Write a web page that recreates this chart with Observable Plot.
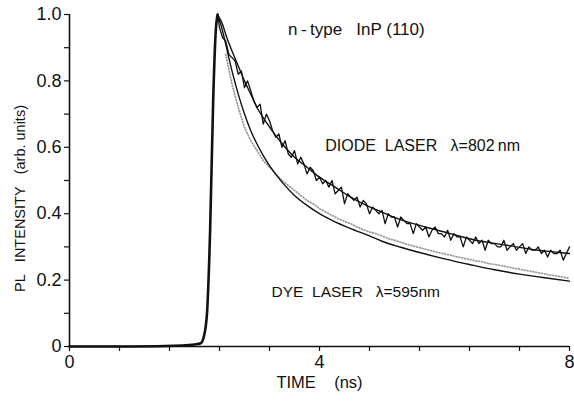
<!DOCTYPE html>
<html>
<head>
<meta charset="utf-8">
<script src="https://cdn.jsdelivr.net/npm/d3@7"></script>
<script src="https://cdn.jsdelivr.net/npm/@observablehq/plot@0.6"></script>
<style>
  body { margin: 0; background: #fff; }
  #chart svg { display: block; }
</style>
</head>
<body>
<div id="chart"></div>
<script>
// Shared rising edge (both measurements)
const riseTime  = [0, 1.0, 1.8, 2.0, 2.1, 2.15, 2.2, 2.25, 2.3, 2.34, 2.37];
const riseValue = [0, 0.0, 0.003, 0.006, 0.01, 0.03, 0.1, 0.35, 0.75, 0.95, 1.0];

// Diode laser (802 nm) fit curve
const diodeFitTime  = [2.37, 2.45, 2.5, 2.6, 2.7, 2.8, 2.9, 3.0, 3.15, 3.3, 3.45, 3.6, 3.8, 4.0, 4.25, 4.5, 4.75, 5.0, 5.25, 5.5, 5.75, 6.0, 6.25, 6.5, 6.75, 7.0, 7.25, 7.5, 7.75, 8.0];
const diodeFitValue = [1.0, 0.97, 0.94, 0.89, 0.845, 0.80, 0.76, 0.72, 0.675, 0.635, 0.60, 0.57, 0.54, 0.51, 0.48, 0.45, 0.425, 0.405, 0.385, 0.37, 0.357, 0.345, 0.332, 0.32, 0.312, 0.305, 0.297, 0.29, 0.285, 0.28];

// Diode laser measured (noisy) trace, every 0.05 ns from 2.40 ns
const diodeDataStart = 2.40, diodeDataStep = 0.05;
const diodeData = [
  0.96, 0.93, 0.92, 0.88, 0.87, 0.86, 0.82, 0.83, 0.78, 0.80,
  0.77, 0.74, 0.72, 0.73, 0.67, 0.70, 0.68, 0.65, 0.63, 0.64,
  0.60, 0.62, 0.58, 0.57, 0.59, 0.55, 0.57, 0.55, 0.52, 0.54,
  0.53, 0.50, 0.51, 0.49, 0.50, 0.48, 0.50, 0.46, 0.47, 0.48,
  0.43, 0.46, 0.45, 0.44, 0.45, 0.42, 0.44, 0.43, 0.40, 0.42,
  0.41, 0.40, 0.41, 0.37, 0.40, 0.39, 0.39, 0.36, 0.39, 0.38,
  0.37, 0.37, 0.34, 0.37, 0.36, 0.35, 0.36, 0.33, 0.35, 0.36,
  0.34, 0.34, 0.33, 0.35, 0.32, 0.34, 0.33, 0.33, 0.30, 0.33,
  0.32, 0.31, 0.33, 0.31, 0.32, 0.29, 0.32, 0.31, 0.31, 0.30,
  0.30, 0.32, 0.29, 0.30, 0.31, 0.29, 0.30, 0.31, 0.28, 0.30,
  0.29, 0.29, 0.30, 0.28, 0.29, 0.27, 0.29, 0.28, 0.28, 0.29,
  0.26, 0.28, 0.30
];

// Dye laser (595 nm) fit curve
const dyeFitTime  = [2.37, 2.45, 2.5, 2.6, 2.7, 2.8, 2.9, 3.0, 3.1, 3.2, 3.4, 3.6, 3.8, 4.0, 4.2, 4.5, 4.8, 5.0, 5.3, 5.6, 6.0, 6.4, 6.8, 7.2, 7.6, 8.0];
const dyeFitValue = [1.0, 0.95, 0.91, 0.83, 0.76, 0.70, 0.65, 0.61, 0.575, 0.545, 0.495, 0.455, 0.425, 0.40, 0.38, 0.355, 0.333, 0.317, 0.299, 0.283, 0.264, 0.247, 0.231, 0.218, 0.207, 0.197];

// Dye laser measured trace (stippled), every 0.1 ns from 2.5 ns
const dyeDataStart = 2.5, dyeDataStep = 0.1;
const dyeData = [
  0.88, 0.79, 0.72, 0.66, 0.62, 0.59, 0.56, 0.54, 0.52, 0.50,
  0.485, 0.47, 0.455, 0.44, 0.43, 0.415, 0.405, 0.395, 0.385, 0.377,
  0.37, 0.36, 0.352, 0.345, 0.34, 0.333, 0.325, 0.32, 0.314, 0.308,
  0.303, 0.298, 0.293, 0.288, 0.283, 0.279, 0.275, 0.27, 0.266, 0.262,
  0.258, 0.255, 0.25, 0.247, 0.244, 0.24, 0.236, 0.233, 0.229, 0.226,
  0.222, 0.219, 0.215, 0.212, 0.209, 0.205
];

// Axis ticks and labels
const xMinorTicks = [0, 0.8, 1.6, 2.4, 3.2, 4.0, 4.8, 5.6, 6.4, 7.2, 8.0];
const xLabelTicks = [0, 4, 8];
const yMinorTicks = [0, 0.1, 0.2, 0.3, 0.4, 0.5, 0.6, 0.7, 0.8, 0.9, 1.0];
const yLabelTicks = [0, 0.2, 0.4, 0.6, 0.8, 1.0];
const yTickLabels = ["0", "0.2", "0.4", "0.6", "0.8", "1.0"];
const xAxisTitle = "TIME\u00a0\u00a0\u00a0\u00a0(ns)";
const yAxisTitle = "PL\u00a0\u00a0\u00a0INTENSITY\u00a0\u00a0\u00a0(arb. units)";

// Annotations (time, intensity, text)
const noteTime  = [4.59, 5.65, 4.58];
const noteValue = [0.955, 0.605, 0.163];
const noteText  = [
  "n\u2009-\u2009type\u00a0\u00a0\u00a0InP (110)",
  "DIODE\u00a0\u00a0LASER\u00a0\u00a0\u00a0\u03bb=802\u2009nm",
  "DYE\u00a0\u00a0LASER\u00a0\u00a0\u00a0\u03bb=595nm"
];
const noteSize = [17, 16, 15.5];

// Build tables
const rise = riseTime.map((t, i) => ({t, v: riseValue[i]}));
const diodeFit = diodeFitTime.map((t, i) => ({t, v: diodeFitValue[i]}));
const dyeFit = dyeFitTime.map((t, i) => ({t, v: dyeFitValue[i]}));
const diodeMeas = [{t: 2.37, v: 1.0}].concat(diodeData.map((v, i) => ({t: diodeDataStart + i * diodeDataStep, v})));
const dyeMeas = dyeData.map((v, i) => ({t: dyeDataStart + i * dyeDataStep, v}));
const notes = noteText.map((s, i) => ({t: noteTime[i], v: noteValue[i], s, size: noteSize[i]}));

const chart = Plot.plot({
  width: 574,
  height: 409,
  marginTop: 14,
  marginBottom: 63,
  marginLeft: 69,
  marginRight: 5,
  x: {domain: [0, 8]},
  y: {domain: [0, 1]},
  style: {fontFamily: "'Liberation Sans', Arial, sans-serif", fontSize: "16px", color: "#111", background: "#fff"},
  marks: [
    // axes
    Plot.axisX({ticks: xMinorTicks, tickSize: 5, tickFormat: () => "", label: null, strokeWidth: 1.2}),
    Plot.axisX({ticks: xLabelTicks, tickSize: 0, tickPadding: 9, fontSize: 18, label: null}),
    Plot.axisY({ticks: yMinorTicks, tickSize: 5, tickFormat: () => "", label: null, strokeWidth: 1.2}),
    Plot.axisY({ticks: yLabelTicks, tickSize: 0, tickPadding: 8, fontSize: 18, label: null,
      tickFormat: d => yTickLabels[yLabelTicks.indexOf(d)]}),
    Plot.ruleX([0], {stroke: "#111", strokeWidth: 1.6}),
    Plot.ruleY([0], {stroke: "#111", strokeWidth: 1.6}),
    Plot.text([xAxisTitle], {frameAnchor: "bottom", dy: 41, fontSize: 16.5}),
    Plot.text([yAxisTitle], {frameAnchor: "left", textAnchor: "middle", dx: -49, dy: 18, rotate: -90, fontSize: 14.5}),
    // dye laser measured (stippled)
    Plot.line(dyeMeas, {x: "t", y: "v", stroke: "#999", strokeWidth: 1.8, strokeDasharray: "0.7 2.2", curve: "linear"}),
    // fits
    Plot.line(dyeFit, {x: "t", y: "v", stroke: "#111", strokeWidth: 1.4, curve: "monotone-x"}),
    Plot.line(diodeFit, {x: "t", y: "v", stroke: "#111", strokeWidth: 1.4, curve: "monotone-x"}),
    // diode laser measured (noisy)
    Plot.line(diodeMeas, {x: "t", y: "v", stroke: "#111", strokeWidth: 1.3, curve: "linear"}),
    // rising edge
    Plot.line(rise, {x: "t", y: "v", stroke: "#111", strokeWidth: 2.6, curve: "monotone-x"}),
    // annotations
    Plot.text(notes, {x: "t", y: "v", text: "s", fontSize: "size", textAnchor: "middle"})
  ]
});
document.getElementById("chart").appendChild(chart);
</script>
</body>
</html>
